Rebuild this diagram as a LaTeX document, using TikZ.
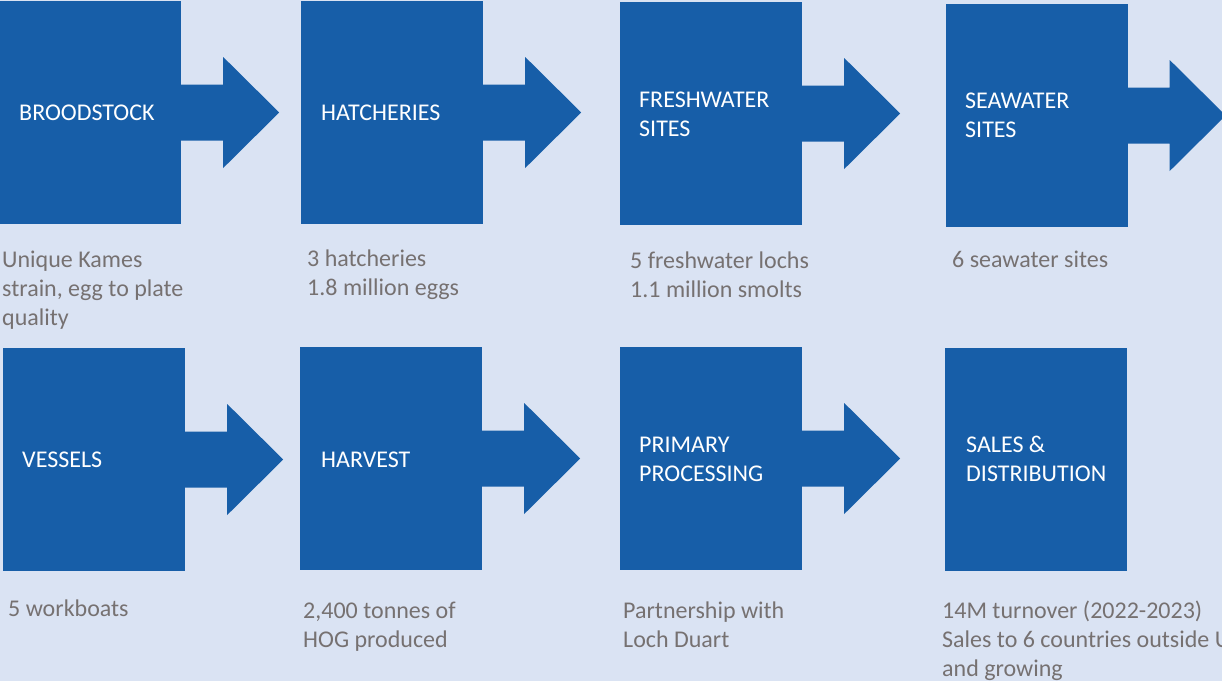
\documentclass[tikz,border=0pt]{standalone}
\usepackage{fontspec}
\setmainfont{Carlito}
\definecolor{bgcol}{HTML}{DAE3F3}
\definecolor{boxblue}{HTML}{175EA8}
\definecolor{capgray}{HTML}{767171}
\newcommand{\lines}[1]{\begin{tabular}[t]{@{}l@{}}#1\end{tabular}}
\tikzset{
  stagebox/.style={rectangle, fill=boxblue, draw=none, minimum width=182pt, minimum height=223pt, inner sep=0pt},
  stagelabel/.style={anchor=base west, inner sep=0pt, text=white, font=\fontsize{24}{29}\selectfont},
  caption/.style={anchor=base west, inner sep=0pt, text=capgray, font=\fontsize{24}{29}\selectfont},
  blockarrow/.style={fill=boxblue}
}
\newcommand{\blockarrowfrom}[1]{%
  \fill[blockarrow] ($(#1.east)+(-1,-28)$) -- ++(43,0) -- ++(0,-27.5) -- ++(56,55.5) -- ++(-56,55.5) -- ++(0,-27.5) -- ++(-43,0) -- cycle;}
\usetikzlibrary{calc}
\begin{document}
\begin{tikzpicture}[x=1pt,y=-1pt]
\fill[bgcol] (0,0) rectangle (1222,681);
\useasboundingbox (0,0) rectangle (1222,681);
\clip (0,0) rectangle (1222,681);
% row 1 boxes
\node[stagebox] (b1) at (90,112.5) {};
\node[stagebox] (b2) at (392,112.5) {};
\node[stagebox] (b3) at (711,113.5) {};
\node[stagebox] (b4) at (1036.5,115.5) {};
% row 2 boxes
\node[stagebox] (b5) at (94,459.5) {};
\node[stagebox] (b6) at (391,458.5) {};
\node[stagebox] (b7) at (711,458.5) {};
\node[stagebox] (b8) at (1036,459.5) {};
% arrows
\blockarrowfrom{b1}
\blockarrowfrom{b2}
\blockarrowfrom{b3}
\blockarrowfrom{b4}
\blockarrowfrom{b5}
\blockarrowfrom{b6}
\blockarrowfrom{b7}
% labels
\node[stagelabel] (l1) at (19,120) {BROODSTOCK};
\node[stagelabel] (l2) at (321,120) {HATCHERIES};
\node[stagelabel] (l3) at (639,107) {\lines{FRESHWATER\\SITES}};
\node[stagelabel] (l4) at (965,108) {\lines{SEAWATER\\SITES}};
\node[stagelabel] (l5) at (22,467) {VESSELS};
\node[stagelabel] (l6) at (321,467) {HARVEST};
\node[stagelabel] (l7) at (639,452) {\lines{PRIMARY\\PROCESSING}};
\node[stagelabel] (l8) at (966,452) {\lines{SALES \&\\DISTRIBUTION}};
% captions
\node[caption] (c1) at (2,267) {\lines{Unique Kames\\strain, egg to plate\\quality}};
\node[caption] (c2) at (307,266) {\lines{3 hatcheries\\1.8 million eggs}};
\node[caption] (c3) at (630,268) {\lines{5 freshwater lochs\\1.1 million smolts}};
\node[caption] (c4) at (952,267) {6 seawater sites};
\node[caption] (c5) at (8,616) {5 workboats};
\node[caption] (c6) at (303,618) {\lines{2,400 tonnes of\\HOG produced}};
\node[caption] (c7) at (623,618) {\lines{Partnership with\\Loch Duart}};
\node[caption] (c8) at (942,618) {\lines{14M turnover (2022-2023)\\Sales to 6 countries outside UK\\and growing}};
\end{tikzpicture}
\end{document}
